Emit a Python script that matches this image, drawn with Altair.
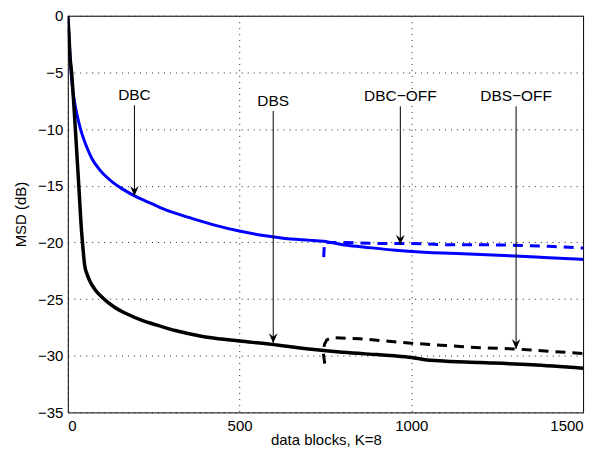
import altair as alt
import pandas as pd

# DBC (blue solid)
dbc_x = [0, 4, 8, 11, 15, 20, 28, 37, 54, 70, 93, 131, 160, 194, 230, 267, 310, 363, 430, 499,
         550, 595, 650, 700, 745, 800, 860, 954, 1050, 1150, 1302, 1400, 1500]
dbc_y = [0, -2.3, -4.3, -5.5, -6.7, -7.7, -8.9, -10, -11.5, -12.6, -13.6, -14.7, -15.3, -15.9,
         -16.4, -16.9, -17.4, -17.9, -18.5, -19.0, -19.3, -19.5, -19.7, -19.8, -19.9, -20.2,
         -20.4, -20.7, -20.9, -21.0, -21.2, -21.35, -21.5]

# DBC-OFF (blue dashed)
dbcoff_x = [745, 747, 760, 800, 900, 1000, 1100, 1200, 1300, 1400, 1500]
dbcoff_y = [-21.3, -20.0, -20.0, -20.0, -20.1, -20.1, -20.2, -20.2, -20.25, -20.35, -20.5]

# DBS (black solid)
dbs_x = [0, 3, 6, 11, 22, 32, 40, 45, 49, 56, 64, 80, 102, 135, 171, 218, 260, 316, 360, 412,
         500, 595, 660, 731, 800, 900, 950, 1001, 1040, 1079, 1200, 1350, 1500]
dbs_y = [0, -1.5, -3.4, -5, -10, -15, -19, -20.8, -22, -22.8, -23.4, -24.2, -24.9, -25.7, -26.3,
         -26.9, -27.3, -27.8, -28.1, -28.4, -28.7, -29.0, -29.25, -29.5, -29.7, -29.9, -30.0,
         -30.15, -30.35, -30.45, -30.6, -30.8, -31.1]

# DBS-OFF (black dashed)
dbsoff_x = [748, 744, 747, 754, 770, 850, 1000, 1100, 1200, 1302, 1400, 1500]
dbsoff_y = [-30.7, -29.8, -29.0, -28.6, -28.4, -28.5, -28.9, -29.1, -29.3, -29.4, -29.6, -29.8]

# annotations
ann_label = ["DBC", "DBS", "DBC\u2212OFF", "DBS\u2212OFF"]
ann_x = [194, 598, 968, 1305]
ann_text_y = [-7.0, -7.5, -7.1, -7.1]
ann_top_y = [-7.9, -8.4, -8.0, -8.0]
ann_tip_y = [-15.9, -28.9, -20.2, -29.4]

x_ticks = [0, 500, 1000, 1500]
y_ticks = [0, -5, -10, -15, -20, -25, -30, -35]


def series(xs, ys, name):
    return pd.DataFrame({"x": xs, "y": ys, "order": range(len(xs)), "s": name})


xs = alt.Scale(domain=[0, 1500], nice=False, zero=False)
ys = alt.Scale(domain=[-35, 0], nice=False, zero=False)

X = alt.X("x:Q", scale=xs,
          axis=alt.Axis(values=x_ticks, format="d", title="data blocks, K=8", titleX=259,
                        titleY=27, titleBaseline="middle"))
Y = alt.Y("y:Q", scale=ys,
          axis=alt.Axis(values=y_ticks, format="d", title="MSD (dB)", titleX=-47, titleY=199,
                        titleBaseline="middle", titleAngle=-90))


def line(df, color, width, dash=None, interp="linear"):
    kw = dict(color=color, strokeWidth=width, strokeJoin="round", strokeCap="butt", clip=True,
              interpolate=interp)
    if dash:
        kw["strokeDash"] = dash
    return alt.Chart(df).mark_line(**kw).encode(x=X, y=Y, order="order:Q")


l_dbc = line(series(dbc_x, dbc_y, "DBC"), "#0000ff", 3, interp="monotone")
l_dbcoff = line(series(dbcoff_x, dbcoff_y, "DBC-OFF"), "#0000ff", 3, [10, 7])
l_dbs = line(series(dbs_x, dbs_y, "DBS"), "#000000", 3.5, interp="monotone")
l_dbsoff = line(series(dbsoff_x, dbsoff_y, "DBS-OFF"), "#000000", 3, [10, 7])

ann = pd.DataFrame({"label": ann_label, "x": ann_x, "ty": ann_text_y,
                    "top": ann_top_y, "tip": ann_tip_y})

rules = alt.Chart(ann).mark_rule(color="black", strokeWidth=1).encode(
    x=alt.X("x:Q", scale=xs), y=alt.Y("top:Q", scale=ys), y2="tip:Q")

arrow_path = "M0,0 L-1,-2.3 L0,-1.5 L1,-2.3 Z"
heads = alt.Chart(ann).mark_point(shape=arrow_path, filled=True, color="black", size=75,
                                  opacity=1, strokeWidth=0).encode(
    x=alt.X("x:Q", scale=xs), y=alt.Y("tip:Q", scale=ys))

texts = alt.Chart(ann).mark_text(font="Liberation Sans", fontSize=15.5, color="black",
                                 baseline="middle", align="center").encode(
    x=alt.X("x:Q", scale=xs), y=alt.Y("ty:Q", scale=ys), text="label:N")

chart = alt.layer(l_dbc, l_dbcoff, l_dbs, l_dbsoff, rules, heads, texts).properties(
    width=517, height=398,
    padding={"left": 60, "top": 7, "right": 20, "bottom": 40},
    autosize=alt.AutoSizeParams(type="none"),
    background="white",
).configure_view(
    stroke="black", strokeWidth=1
).configure_axis(
    domain=False, ticks=False, grid=True, gridColor="#222222", gridDash=[1, 5],
    gridWidth=1, gridOpacity=1,
    labelFont="Liberation Sans", labelFontSize=15, labelColor="black", labelPadding=5,
    titleFont="Liberation Sans", titleFontSize=15, titleFontWeight="normal", titleColor="black",
).configure_axisX(labelPadding=6)

chart.save("out.html", embed_options={"renderer": "svg", "actions": False})
